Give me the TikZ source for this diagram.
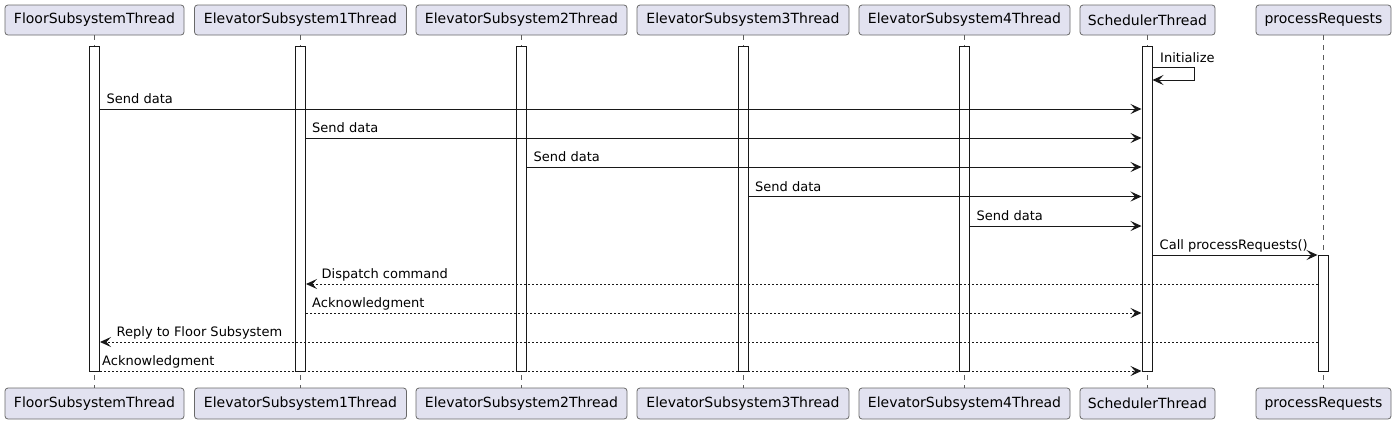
\documentclass[tikz,border=0pt]{standalone}
\usepackage{fontspec}
\setmainfont{DejaVu Sans}
\usetikzlibrary{arrows.meta}
\definecolor{partfill}{HTML}{E2E2F0}
\definecolor{ink}{HTML}{181818}
\tikzset{
  part/.style={draw=ink!65, fill=partfill, line width=0.8pt, rounded corners=3pt, minimum height=30pt, inner sep=0pt, font=\fontsize{14pt}{16pt}\selectfont, text=black},
  actbar/.style={draw=ink, fill=white, line width=1pt, minimum width=10pt, inner sep=0pt},
  lifeline/.style={draw=ink!70, line width=0.5pt, dash pattern=on 5pt off 5pt},
  msg/.style={draw=ink, line width=1pt, -{Stealth[length=11pt,width=10pt,inset=4.5pt]}},
  rmsg/.style={msg, dash pattern=on 2pt off 2pt},
  lbl/.style={anchor=base west, inner sep=0pt, font=\fontsize{13pt}{15pt}\selectfont, text=black}
}
\begin{document}
\begin{tikzpicture}[x=1pt,y=-1pt]
\useasboundingbox (0,0) rectangle (1396,424);
% participants top
\node[part, minimum width=179pt] (ft) at (94.5,20) {FloorSubsystemThread};
\node[part, minimum width=212pt] (e1t) at (300.5,20) {ElevatorSubsystem1Thread};
\node[part, minimum width=211pt] (e2t) at (521.5,20) {ElevatorSubsystem2Thread};
\node[part, minimum width=212pt] (e3t) at (743,20) {ElevatorSubsystem3Thread};
\node[part, minimum width=211pt] (e4t) at (964.5,20) {ElevatorSubsystem4Thread};
\node[part, minimum width=135pt] (st) at (1147.5,20) {SchedulerThread};
\node[part, minimum width=135pt] (pt) at (1323.5,20) {processRequests};
% participants bottom
\node[part, minimum width=179pt, minimum height=31pt] (fb) at (94.5,403.5) {FloorSubsystemThread};
\node[part, minimum width=212pt, minimum height=31pt] (e1b) at (300.5,403.5) {ElevatorSubsystem1Thread};
\node[part, minimum width=211pt, minimum height=31pt] (e2b) at (521.5,403.5) {ElevatorSubsystem2Thread};
\node[part, minimum width=212pt, minimum height=31pt] (e3b) at (743,403.5) {ElevatorSubsystem3Thread};
\node[part, minimum width=211pt, minimum height=31pt] (e4b) at (964.5,403.5) {ElevatorSubsystem4Thread};
\node[part, minimum width=135pt, minimum height=31pt] (sb) at (1147.5,403.5) {SchedulerThread};
\node[part, minimum width=135pt, minimum height=31pt] (pb) at (1323.5,403.5) {processRequests};
% lifelines
\foreach \a/\b in {ft/fb, e1t/e1b, e2t/e2b, e3t/e3b, e4t/e4b, st/sb, pt/pb}
  \draw[lifeline] (\a.south) -- (\b.north);
% activation bars
\node[actbar, minimum height=325pt] (fa) at (94.5,208.5) {};
\node[actbar, minimum height=325pt] (e1a) at (300.5,208.5) {};
\node[actbar, minimum height=325pt] (e2a) at (521.5,208.5) {};
\node[actbar, minimum height=325pt] (e3a) at (743.5,208.5) {};
\node[actbar, minimum height=325pt] (e4a) at (964.5,208.5) {};
\node[actbar, minimum height=325pt] (sa) at (1147,208.5) {};
\node[actbar, minimum height=116pt] (pa) at (1323,313) {};
% messages
\draw[msg] (sa.east |- 0,67.5) -- (1194,67.5) -- (1194,80) -- (sa.east |- 0,80);
\node[lbl] (l0) at (1160,62) {Initialize};
\draw[msg] (fa.east |- 0,109) -- (sa.west |- 0,109);
\node[lbl] (l1) at (106.5,103.5) {Send data};
\draw[msg] (e1a.east |- 0,138) -- (sa.west |- 0,138);
\node[lbl] (l2) at (312,132.5) {Send data};
\draw[msg] (e2a.east |- 0,167) -- (sa.west |- 0,167);
\node[lbl] (l3) at (533.5,161.5) {Send data};
\draw[msg] (e3a.east |- 0,196.5) -- (sa.west |- 0,196.5);
\node[lbl] (l4) at (755,191) {Send data};
\draw[msg] (e4a.east |- 0,226) -- (sa.west |- 0,226);
\node[lbl] (l5) at (976.5,220.5) {Send data};
\draw[msg] (sa.east |- 0,255) -- (pa.west |- 0,255);
\node[lbl] (l6) at (1159.5,249.5) {Call processRequests()};
\draw[rmsg] (pa.west |- 0,284) -- (e1a.east |- 0,284);
\node[lbl] (l7) at (321.5,278.5) {Dispatch command};
\draw[rmsg] (e1a.east |- 0,313) -- (sa.west |- 0,313);
\node[lbl] (l8) at (312,307.5) {Acknowledgment};
\draw[rmsg] (pa.west |- 0,342) -- (fa.east |- 0,342);
\node[lbl] (l9) at (116.5,336.5) {Reply to Floor Subsystem};
\draw[rmsg] (fa.east |- 0,371) -- (sa.west |- 0,371);
\node[lbl] (l10) at (102,365.5) {Acknowledgment};
\end{tikzpicture}
\end{document}
